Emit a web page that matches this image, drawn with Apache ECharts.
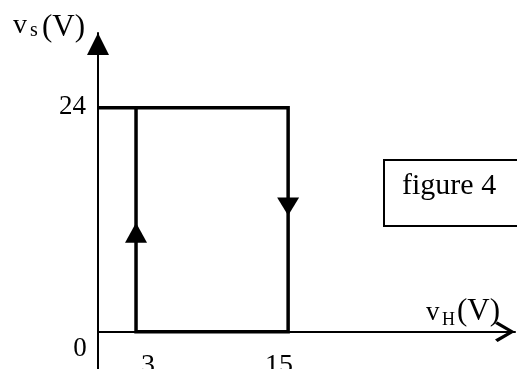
<!DOCTYPE html>
<html>
<head>
<meta charset="utf-8">
<script src="https://cdn.jsdelivr.net/npm/echarts@6/dist/echarts.min.js"></script>
<style>
  html, body { margin: 0; padding: 0; background: #fff; }
  #chart { width: 517px; height: 369px; }
</style>
</head>
<body>
<div id="chart"></div>
<script>
// Hysteresis of the comparator: output vs (V) against input vH (V)
const loopPath = [[0, 24], [15, 24], [15, 0], [3, 0], [3, 24]];
const risingArrow = [[3, 10.6]];
const fallingArrow = [[15, 13.4]];
const xTickValues = [3, 15];
const xTickLabels = ['3', '15'];
const yTickValues = [24];
const yTickLabels = ['24'];
const originLabel = '0';
const xRange = [0, 32.9];
const yRange = [-4, 32];

const SERIF = '"Liberation Serif", "Times New Roman", serif';
const INK = '#000';

const chart = echarts.init(document.getElementById('chart'), null, { renderer: 'canvas' });

chart.setOption({
  animation: false,
  backgroundColor: '#fff',
  grid: { left: 98, right: 2, top: 33, bottom: 0, containLabel: false },
  xAxis: {
    type: 'value', min: xRange[0], max: xRange[1],
    axisLine: {
      onZero: true,
      symbol: ['none', 'path://M10,0 L20,17 L17.6,19.5 L10,6 L2.4,19.5 L0,17 Z'],
      symbolSize: [22, 20],
      symbolOffset: [0, -10],
      lineStyle: { color: INK, width: 2 }
    },
    axisTick: { show: false }, axisLabel: { show: false }, splitLine: { show: false }
  },
  yAxis: {
    type: 'value', min: yRange[0], max: yRange[1],
    axisLine: {
      onZero: true,
      symbol: ['none', 'triangle'],
      symbolSize: [22, 22],
      symbolOffset: [0, -11],
      lineStyle: { color: INK, width: 2 }
    },
    axisTick: { show: false }, axisLabel: { show: false }, splitLine: { show: false }
  },
  series: [
    {
      type: 'line', data: loopPath, symbol: 'none', z: 5,
      lineStyle: { color: INK, width: 3.5, join: 'miter' }
    },
    {
      type: 'scatter', data: risingArrow, symbol: 'triangle', symbolSize: [22, 20], z: 6,
      itemStyle: { color: INK, opacity: 1 }
    },
    {
      type: 'scatter', data: fallingArrow, symbol: 'triangle', symbolSize: [22, 18], symbolRotate: 180, z: 6,
      itemStyle: { color: INK, opacity: 1 }
    }
  ]
});

// Text placed from the axis scales
const px = (x, y) => chart.convertToPixel({ gridIndex: 0 }, [x, y]);
const txt = (text, x, y, size, align) => ({
  type: 'text', x: x, y: y, z: 10,
  style: { text: text, font: size + 'px ' + SERIF, fill: INK, align: align || 'center', verticalAlign: 'middle' }
});

const labels = [];
const xNudge = [12, -9];
xTickValues.forEach((v, i) => {
  const p = px(v, 0);
  labels.push(txt(xTickLabels[i], p[0] + xNudge[i], p[1] + 34, 28));
});
yTickValues.forEach((v, i) => {
  const p = px(0, v);
  labels.push(txt(yTickLabels[i], p[0] - 12, p[1] - 1, 27, 'right'));
});
const o = px(0, 0);
labels.push(txt(originLabel, o[0] - 18, o[1] + 17, 27));

// Axis titles
labels.push(txt('v', 13, 26, 28, 'left'));
labels.push(txt('s', 30, 31, 20, 'left'));
labels.push(txt('(V)', 42, 28, 31, 'left'));
labels.push(txt('v', 426, 313, 27, 'left'));
labels.push(txt('H', 442, 320, 18, 'left'));
labels.push(txt('(V)', 457, 312, 31, 'left'));

// Caption box
labels.push({
  type: 'rect', z: 10,
  shape: { x: 384, y: 160, width: 150, height: 66 },
  style: { fill: 'none', stroke: INK, lineWidth: 2 }
});
labels.push(txt('figure 4', 402, 186, 30, 'left'));

chart.setOption({ graphic: labels });
</script>
</body>
</html>
